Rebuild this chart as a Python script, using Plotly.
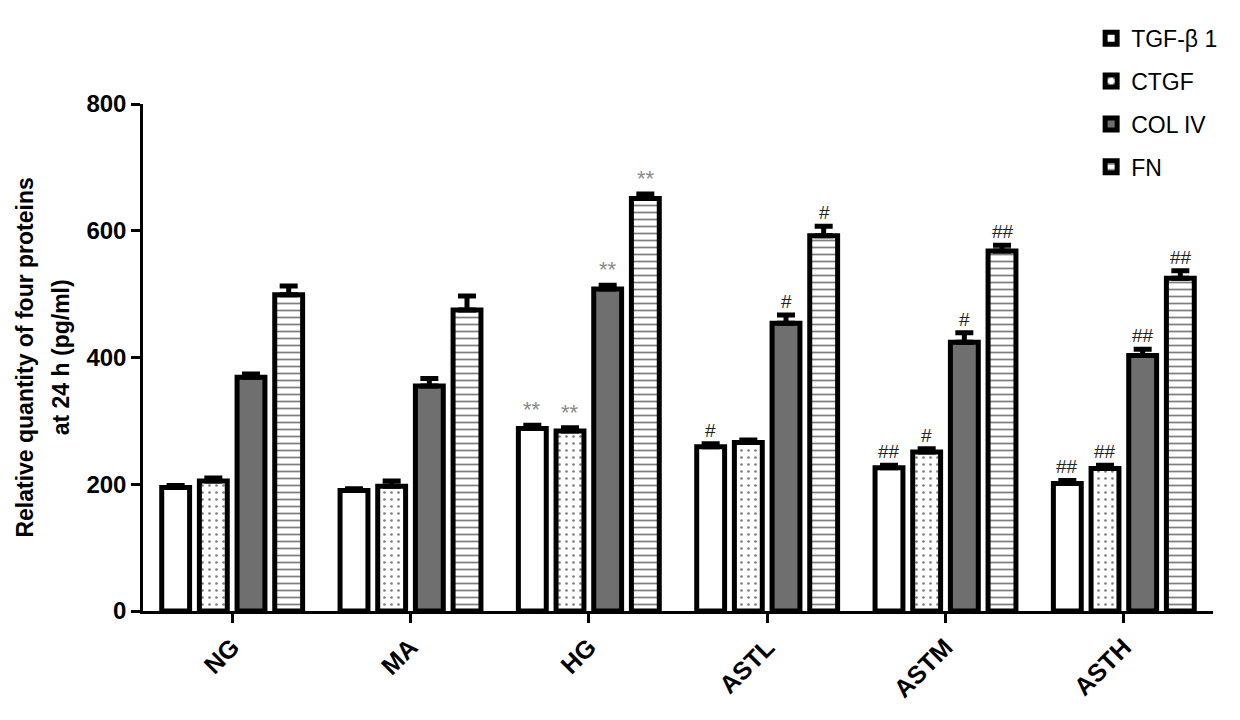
import plotly.graph_objects as go

categories = ["NG", "MA", "HG", "ASTL", "ASTM", "ASTH"]
series_names = ["TGF-β 1", "CTGF", "COL IV", "FN"]
tgf = [195, 190, 288, 259, 226, 201]
ctgf = [205, 197, 284, 266, 251, 225]
col4 = [369, 355, 508, 454, 424, 403]
fn = [499, 475, 651, 592, 568, 525]
tgf_err = [3, 3, 5, 5, 4, 5]
ctgf_err = [5, 8, 5, 4, 5, 5]
col4_err = [5, 12, 6, 13, 15, 10]
fn_err = [14, 22, 7, 15, 9, 12]
marks = [
    ["", "", "**", "#", "##", "##"],
    ["", "", "**", "", "#", "##"],
    ["", "", "**", "#", "#", "##"],
    ["", "", "**", "#", "##", "##"],
]
y_title_lines = ["Relative quantity of four proteins", "at 24 h (pg/ml)"]

values = [tgf, ctgf, col4, fn]
errors = [tgf_err, ctgf_err, col4_err, fn_err]
fills = ["white", "white", "#6f6f6f", "white"]
patterns = [None, dict(shape=".", fgcolor="black", bgcolor="white", size=7, solidity=0.12),
            None, dict(shape="-", fgcolor="black", bgcolor="white", size=7, solidity=0.25)]

FONT = "Arial, Liberation Sans, sans-serif"
W, H = 1224, 704
L, R, T, B = 135, 9, 90, 97

fig = go.Figure()
for i in range(4):
    mk = dict(color=fills[i], line=dict(color="black", width=5))
    if patterns[i]:
        mk["pattern"] = patterns[i]
    fig.add_trace(go.Bar(
        x=categories, y=values[i], name=series_names[i], marker=mk,
        error_y=dict(type="data", array=errors[i], arrayminus=[0] * 6, symmetric=False,
                     color="black", thickness=5, width=9),
        legendgroup=str(i),
    ))

offsets = [-57, -19, 19, 57]
for i in range(4):
    for j, c in enumerate(categories):
        m = marks[i][j]
        if not m:
            continue
        fig.add_annotation(
            x=c, y=values[i][j] + errors[i][j], xshift=offsets[i], yshift=1,
            text=m, showarrow=False, yanchor="bottom",
            font=dict(family=FONT, size=22 if m == "**" else 19,
                      color="#8a8a8a" if m == "**" else "#222"),
        )

pw = W - L - R
ph = H - T - B
for k, (txt, px) in enumerate(zip(y_title_lines, [15, 52])):
    fig.add_annotation(
        xref="paper", yref="paper", x=(px - L) / pw, y=0.5,
        text=txt, textangle=-90, showarrow=False,
        font=dict(family=FONT, size=23, color="black", weight="bold"),
        xanchor="center", yanchor="middle",
    )

fig.update_layout(
    width=W, height=H,
    margin=dict(l=L, r=R, t=T, b=B),
    plot_bgcolor="white", paper_bgcolor="white",
    barmode="group", bargap=0.155, bargroupgap=0.26,
    font=dict(family=FONT, color="black"),
    legend=dict(x=(1100 - 8 - L) / pw, y=1 + (T - 1) / ph, xanchor="left", yanchor="top",
                font=dict(family=FONT, size=23, color="black"),
                tracegroupgap=10, bgcolor="rgba(0,0,0,0)"),
    xaxis=dict(range=[-0.5, 5.5], showline=True, linecolor="black", linewidth=2.5,
               ticks="outside", ticklen=9, tickwidth=2.5, tickcolor="black",
               tickangle=-45, tickfont=dict(family=FONT, size=25, color="black", weight="bold"),
               showgrid=False, zeroline=False),
    yaxis=dict(range=[0, 800], dtick=200, showline=True, linecolor="black", linewidth=2.5,
               ticks="outside", ticklen=9, tickwidth=2.5, tickcolor="black",
               tickfont=dict(family=FONT, size=24, color="black", weight="bold"),
               showgrid=False, zeroline=False),
)

fig.write_html("out.html")
